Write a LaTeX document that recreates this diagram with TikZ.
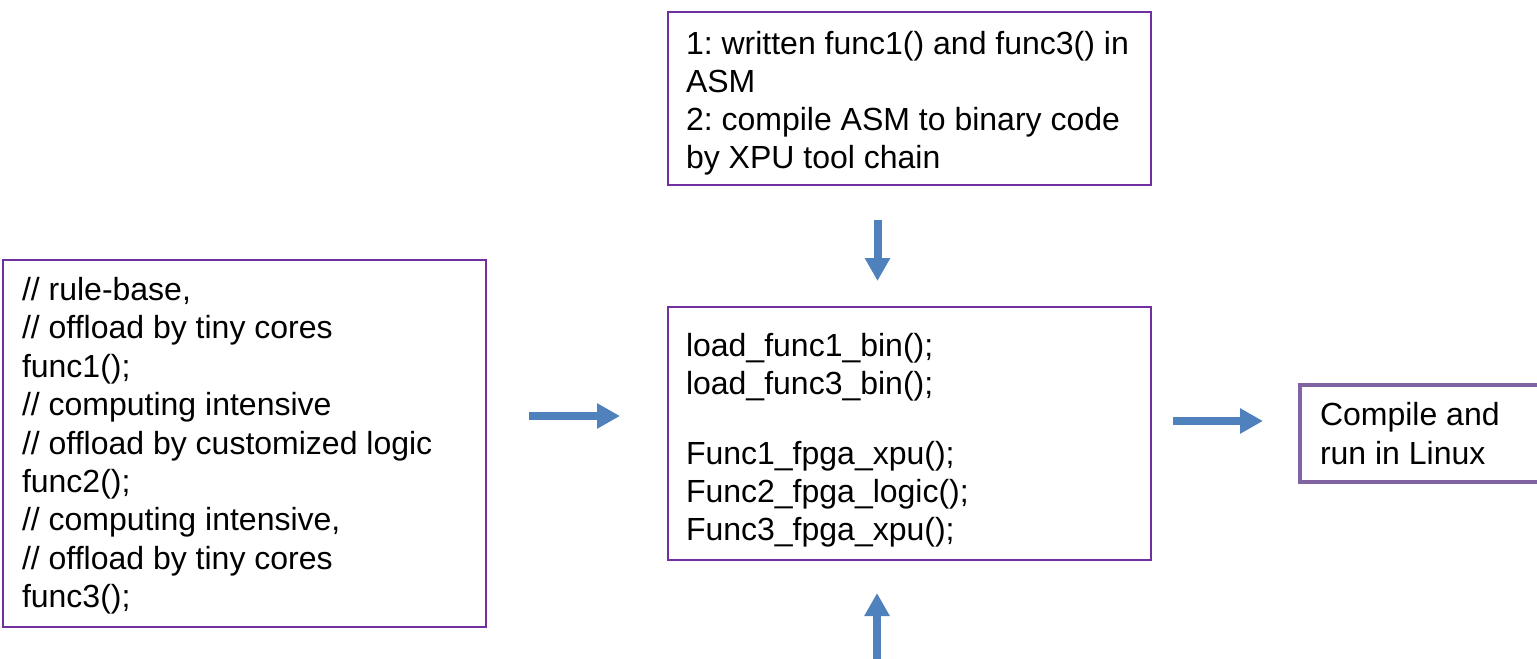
\documentclass[tikz,border=0pt]{standalone}
\usepackage{fontspec}
\setmainfont{Liberation Sans}
\usetikzlibrary{arrows.meta}
\definecolor{boxpurple}{HTML}{7030A0}
\definecolor{boxviolet}{HTML}{8064A2}
\definecolor{arrowblue}{HTML}{4F81BD}
\frenchspacing

\begin{document}
\begin{tikzpicture}[x=0.75pt,y=-0.75pt,
  codebox/.style={draw=boxpurple, line width=1.5pt, rectangle, anchor=north west,
                  inner sep=0pt, outer sep=0pt},
  endbox/.style={draw=boxviolet, line width=3pt, rectangle, anchor=north west,
                 inner sep=0pt, outer sep=0pt},
  textline/.style={anchor=base west, inner sep=0pt, outer sep=0pt,
                   font=\fontsize{24}{28.8}\selectfont},
  blockarrow/.style={draw=arrowblue, line width=6pt,
                     -{Triangle[length=17.25pt,width=18pt]}}]

  % page area
  \clip (0,0) rectangle (1537,659);

  % boxes
  \node (source) [codebox, minimum width=362.25pt, minimum height=275.25pt] at (3,260) {};
  \node (asm)    [codebox, minimum width=362.25pt, minimum height=129.75pt] at (668,12) {};
  \node (host)   [codebox, minimum width=362.25pt, minimum height=189.75pt] at (668,307) {};
  \node (linux)  [endbox,  minimum width=202.5pt,  minimum height=72.75pt]  at (1300,385) {};

  % original program with offload comments
  \foreach \t [count=\i from 0] in {%
      {// rule-base,},
      {// offload by tiny cores},
      {func1();},
      {// computing intensive},
      {// offload by customized logic},
      {func2();},
      {// computing intensive,},
      {// offload by tiny cores},
      {func3();}}
    \node (src-\i) [textline] at (22,{300.5+38.4*\i}) {\t};

  % assembler steps
  \foreach \t [count=\i from 0] in {%
      {1: written func1() and func3() in},
      {ASM},
      {2: compile ASM to binary code},
      {by XPU tool chain}}
    \node (asm-\i) [textline] at (686,{54.5+38*\i}) {\t};

  % host program after offloading
  \node (host-0) [textline] at (686,356.5) {load\_func1\_bin();};
  \node (host-1) [textline] at (686,394.5) {load\_func3\_bin();};
  \node (host-2) [textline] at (686,464.5) {Func1\_fpga\_xpu();};
  \node (host-3) [textline] at (686,502.5) {Func2\_fpga\_logic();};
  \node (host-4) [textline] at (686,540.5) {Func3\_fpga\_xpu();};

  % final step
  \node (linux-0) [textline] at (1320,425.5) {Compile and};
  \node (linux-1) [textline] at (1320,464) {run in Linux};

  % arrow end points
  \coordinate (a1s) at (529,416);   \coordinate (a1e) at (620,416);
  \coordinate (a2s) at (877.5,220); \coordinate (a2e) at (877.5,281);
  \coordinate (a3s) at (877,675);   \coordinate (a3e) at (877,593);
  \coordinate (a4s) at (1173,421);  \coordinate (a4e) at (1263,421);

  \draw[blockarrow] (a1s) -- (a1e);
  \draw[blockarrow] (a2s) -- (a2e);
  \draw[blockarrow] (a3s) -- (a3e);
  \draw[blockarrow] (a4s) -- (a4e);
\end{tikzpicture}
\end{document}
